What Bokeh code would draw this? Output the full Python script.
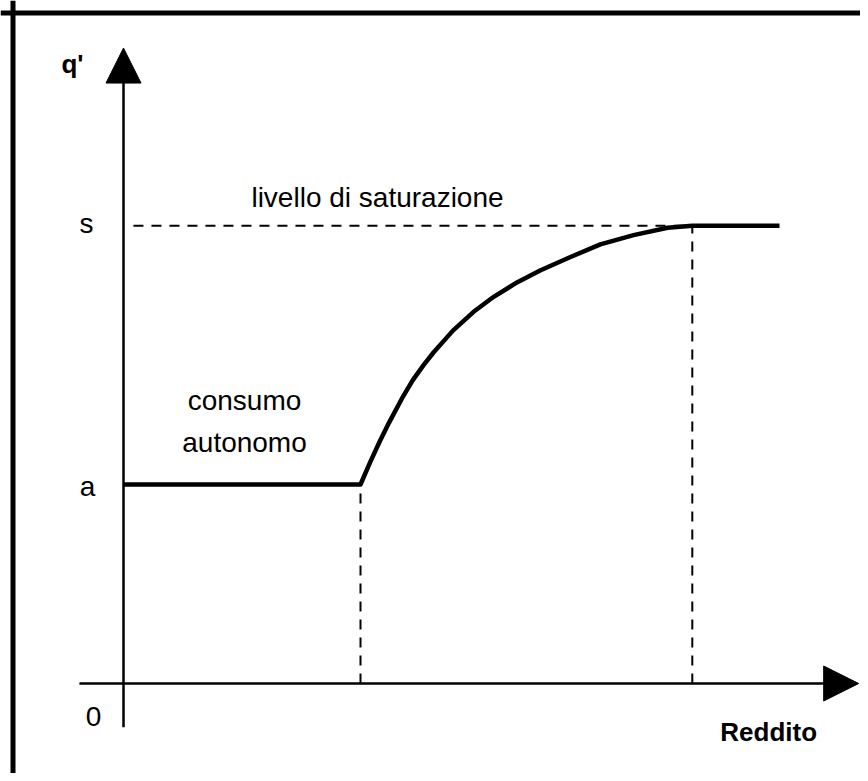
from bokeh.plotting import figure
from bokeh.models import Range1d, Arrow, NormalHead, Span, ColumnDataSource
from bokeh.core.properties import value
from bokeh.embed import file_html
from bokeh.resources import INLINE

# ---- data -------------------------------------------------------------
a_level = 3.0          # consumo autonomo
s_level = 6.9          # livello di saturazione
income_kink = 5.0      # reddito where consumption starts to rise
income_sat = 12.0      # reddito where saturation is reached

income = [0.0, 5.0, 5.2, 5.4, 5.6, 5.9, 6.1, 6.33, 6.54, 6.95, 7.38, 7.81,
          8.31, 8.80, 9.43, 10.06, 10.76, 11.48, 12.0, 13.84]
q_prime = [3.0, 3.0, 3.33, 3.64, 3.93, 4.33, 4.57, 4.80, 4.99, 5.32, 5.60, 5.83,
           6.05, 6.23, 6.43, 6.62, 6.76, 6.87, 6.9, 6.9]

tick_labels = ["0", "a", "s"]
y_axis_label = "q'"
x_axis_label = "Reddito"
sat_label = "livello di saturazione"
auto_label = ["consumo", "autonomo"]

# axis extents (data units)
x_axis_start, x_axis_end = -0.93, 15.51
y_axis_start, y_axis_end = -0.66, 9.58

# ---- layout -------------------------------------------------------------
W, H = 860, 773
ox, oy = 123, 683           # origin on canvas (px)
kx, ky = 47.4, 66.33        # px per data unit

FONT = value("Liberation Sans")

p = figure(width=W, height=H, output_backend="svg", toolbar_location=None,
           x_axis_location=None, y_axis_location=None,
           x_range=Range1d(-ox / kx, (W - ox) / kx),
           y_range=Range1d(-(H - oy) / ky, oy / ky),
           min_border=0, background_fill_color="white",
           border_fill_color="white", outline_line_color=None)
p.xgrid.visible = False
p.ygrid.visible = False

# frame border (left and top visible)
p.add_layout(Span(location=(12.5 - ox) / kx, dimension="height",
                  line_color="black", line_width=5))
p.add_layout(Span(location=(oy - 12.5) / ky, dimension="width",
                  line_color="black", line_width=5))

# axes with arrow heads
p.add_layout(Arrow(end=NormalHead(size=35, fill_color="black", line_color="black"),
                   x_start=0, y_start=y_axis_start, x_end=0, y_end=y_axis_end,
                   line_color="black", line_width=2.5))
p.add_layout(Arrow(end=NormalHead(size=35, fill_color="black", line_color="black"),
                   x_start=x_axis_start, y_start=0, x_end=x_axis_end, y_end=0,
                   line_color="black", line_width=2.5))

# dashed guide lines
p.segment(x0=[0.21, income_kink, income_sat], y0=[s_level, 0, 0],
          x1=[income_sat, income_kink, income_sat], y1=[s_level, a_level, s_level],
          line_color="black", line_width=2, line_dash="10 8")

# consumption curve
p.line(income, q_prime, line_color="black", line_width=4.5, line_join="round")

# tick labels
src = ColumnDataSource(dict(x=[0, 0, 0], y=[0, a_level, s_level], text=tick_labels,
                            xo=[-30, -36, -37], yo=[33, 2, -2]))
p.text(x="x", y="y", text="text", x_offset="xo", y_offset="yo", source=src,
       text_font=FONT, text_font_size="28px", text_align="center",
       text_baseline="middle", text_color="black")

# axis titles
p.text(x=[0], y=[y_axis_end], text=[y_axis_label], x_offset=-51, y_offset=16,
       text_font=FONT, text_font_size="26px", text_font_style="bold",
       text_align="center", text_baseline="middle", text_color="black")
p.text(x=[x_axis_end], y=[0], text=[x_axis_label], x_offset=-90, y_offset=48,
       text_font=FONT, text_font_size="26px", text_font_style="bold",
       text_align="center", text_baseline="middle", text_color="black")

# annotations
p.text(x=[income_kink], y=[s_level], text=[sat_label], x_offset=17, y_offset=-28,
       text_font=FONT, text_font_size="28px", text_align="center",
       text_baseline="middle", text_color="black")
p.text(x=[income_kink / 2] * 2, y=[a_level] * 2, text=auto_label,
       x_offset=[2.5, 2.5], y_offset=[-84, -42],
       text_font=FONT, text_font_size="28px", text_align="center",
       text_baseline="middle", text_color="black")

open("out.html", "w").write(file_html(p, INLINE))
